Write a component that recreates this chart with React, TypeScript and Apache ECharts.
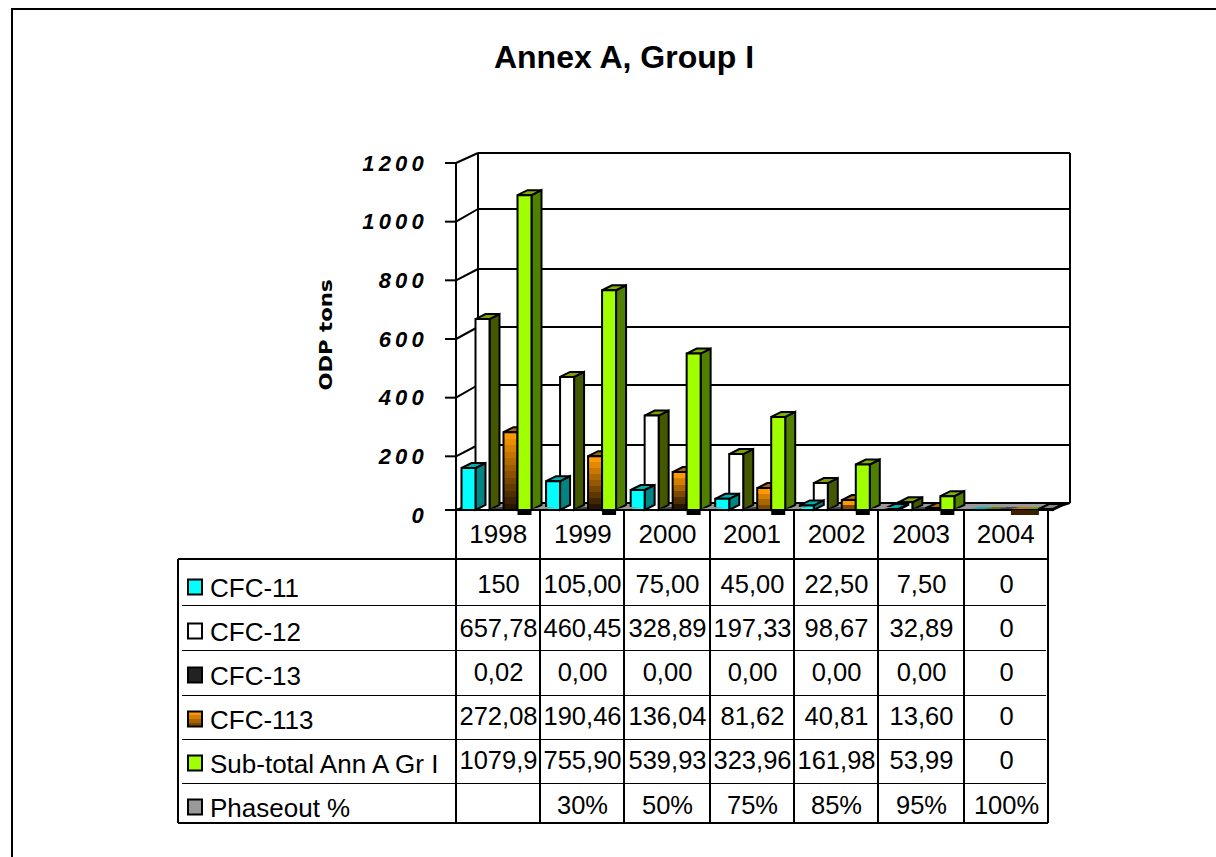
import React, { useEffect, useRef } from "react";
import * as echarts from "echarts";

const years = ["1998", "1999", "2000", "2001", "2002", "2003", "2004"];
const yTicks = [0, 200, 400, 600, 800, 1000, 1200];
const backWallY = [503, 445, 385, 327, 269, 209, 153];

const cfc11 = [150, 105, 75, 45, 22.5, 7.5, 0];
const cfc12 = [657.78, 460.45, 328.89, 197.33, 98.67, 32.89, 0];
const cfc13 = [0.02, 0, 0, 0, 0, 0, 0];
const cfc113 = [272.08, 190.46, 136.04, 81.62, 40.81, 13.6, 0];
const subTotal = [1079.9, 755.9, 539.93, 323.96, 161.98, 53.99, 0];
const phaseout = [0, 0.3, 0.5, 0.75, 0.85, 0.95, 1];

const cellsCfc11 = ["150", "105,00", "75,00", "45,00", "22,50", "7,50", "0"];
const cellsCfc12 = ["657,78", "460,45", "328,89", "197,33", "98,67", "32,89", "0"];
const cellsCfc13 = ["0,02", "0,00", "0,00", "0,00", "0,00", "0,00", "0"];
const cellsCfc113 = ["272,08", "190,46", "136,04", "81,62", "40,81", "13,60", "0"];
const cellsSubTotal = ["1079,9", "755,90", "539,93", "323,96", "161,98", "53,99", "0"];
const cellsPhaseout = ["", "30%", "50%", "75%", "85%", "95%", "100%"];

const rowNames = ["CFC-11", "CFC-12", "CFC-13", "CFC-113", "Sub-total Ann A Gr I", "Phaseout %"];
const rowCells = [cellsCfc11, cellsCfc12, cellsCfc13, cellsCfc113, cellsSubTotal, cellsPhaseout];

const FONT = '"Liberation Sans", Arial, sans-serif';
const GRID = { left: 456, top: 163, width: 592, height: 352 };
const FLOOR_Y = 510;
const BACK_FLOOR_Y = 503;
const BACK_TOP_Y = 153;
const BACK_LEFT = 478;
const BACK_RIGHT = 1070;
const SLOT = 14;
const BAR_W = 14;
const BAR_OFFSET = 5.5;
const DX = 10;
const DY = 5;

function steppedOrange(steps: number) {
  const top = [255, 153, 0];
  const bottom = [40, 22, 0];
  const stops: { offset: number; color: string }[] = [];
  for (let i = 0; i < steps; i++) {
    const t = steps > 1 ? i / (steps - 1) : 0;
    const c = top.map((a, k) => Math.round(a + (bottom[k] - a) * t * (steps < 5 ? 0.6 : 1)));
    const col = `rgb(${c[0]},${c[1]},${c[2]})`;
    stops.push({ offset: i / steps, color: col }, { offset: (i + 1) / steps, color: col });
  }
  return new echarts.graphic.LinearGradient(0, 0, 0, 1, stops);
}

type BarStyle = { slot: number; front: string | null; side: string; top: string; flat: string };

function barSeries(name: string, values: number[], s: BarStyle) {
  return {
    type: "custom",
    name,
    data: values.map((v, i) => [i, v]),
    encode: { x: 0, y: 1 },
    renderItem: (_p: any, api: any) => {
      const cat = api.value(0);
      const v = api.value(1);
      const band = api.size([1, 0])[0];
      const x0 = api.coord([cat, 0])[0] - band / 2 + BAR_OFFSET + s.slot * SLOT;
      const x1 = x0 + BAR_W;
      const children: any[] = [];
      if (name === "Sub-total Ann A Gr I") {
        children.push({
          type: "rect",
          shape: { x: x0, y: FLOOR_Y, width: BAR_W, height: 5 },
          style: { fill: cat === 6 ? "#3a2000" : "#000" },
        });
      }
      if (name === "CFC-113" && cat === 6) {
        children.push({
          type: "rect",
          shape: { x: x0, y: FLOOR_Y, width: BAR_W + 1, height: 5 },
          style: { fill: "#3a2000" },
        });
      }
      if (v < 1) {
        children.push({
          type: "polygon",
          shape: {
            points: [
              [x0, FLOOR_Y - 1],
              [x1, FLOOR_Y - 1],
              [x1 + DX, FLOOR_Y - 3],
              [x0 + DX, FLOOR_Y - 3],
            ],
          },
          style: { fill: s.flat },
        });
        return { type: "group", children };
      }
      const y = Math.min(api.coord([cat, v])[1] - 3, FLOOR_Y - 1);
      const line = { stroke: "#000", lineWidth: 2, lineJoin: "miter" };
      children.push({
        type: "polygon",
        shape: { points: [[x1, y], [x1 + DX, y - DY], [x1 + DX, FLOOR_Y - DY], [x1, FLOOR_Y]] },
        style: { fill: s.side, ...line },
      });
      children.push({
        type: "polygon",
        shape: { points: [[x0, y], [x0 + DX, y - DY], [x1 + DX, y - DY], [x1, y]] },
        style: { fill: s.top, ...line },
      });
      const h = FLOOR_Y - y;
      children.push({
        type: "rect",
        shape: { x: x0, y, width: BAR_W, height: h },
        style: { fill: s.front ?? steppedOrange(Math.max(1, Math.ceil(h / 6.5))), ...line },
      });
      return { type: "group", children };
    },
  };
}

const frameSeries = {
  type: "custom",
  name: "frame",
  data: yTicks.map((v) => [0, v]),
  encode: { x: 0, y: 1 },
  silent: true,
  renderItem: (params: any, api: any) => {
    const v = api.value(1);
    const left = params.coordSys.x;
    const right = left + params.coordSys.width;
    const y = v === 0 ? FLOOR_Y : api.coord([0, v])[1];
    const backY = backWallY[yTicks.indexOf(v)];
    const line = { stroke: "#000", lineWidth: 2 };
    const children: any[] = [];
    if (v === 0) {
      children.push({
        type: "polygon",
        shape: { points: [[left, FLOOR_Y], [right, FLOOR_Y], [BACK_RIGHT, BACK_FLOOR_Y], [BACK_LEFT, BACK_FLOOR_Y]] },
        style: { fill: "#999", stroke: "#000", lineWidth: 2 },
      });
    }
    if (v === 1200) {
      children.push({ type: "line", shape: { x1: left, y1: y, x2: left, y2: FLOOR_Y }, style: line });
      children.push({ type: "line", shape: { x1: BACK_LEFT, y1: BACK_TOP_Y, x2: BACK_LEFT, y2: BACK_FLOOR_Y }, style: line });
      children.push({ type: "line", shape: { x1: BACK_RIGHT, y1: BACK_TOP_Y, x2: BACK_RIGHT, y2: BACK_FLOOR_Y }, style: line });
    }
    children.push({ type: "line", shape: { x1: left - 11, y1: y, x2: left, y2: y }, style: line });
    children.push({ type: "line", shape: { x1: left, y1: y, x2: BACK_LEFT, y2: backY }, style: line });
    children.push({ type: "line", shape: { x1: BACK_LEFT, y1: backY, x2: BACK_RIGHT, y2: backY }, style: line });
    return { type: "group", children };
  },
};

const rowLineY = [605.5, 650.5, 695.5, 739.5, 783.5];
const columnX = [456, 540, 624, 710, 794, 878, 964, 1048];
const keyFill = () => ["#00FFFF", "#FFFFFF", "#222222", steppedOrange(4), "#A0FF00", "#999999"];

function tableGraphics() {
  const els: any[] = [];
  const thick = { stroke: "#000", lineWidth: 2 };
  const thin = { stroke: "#000", lineWidth: 1 };
  const ln = (x1: number, y1: number, x2: number, y2: number, style: any) =>
    els.push({ type: "line", shape: { x1, y1, x2, y2 }, style });
  // outer frame of the picture
  els.push({
    type: "polyline",
    shape: { points: [[12, 857], [12, 9], [1216, 9]] },
    style: { stroke: "#000", lineWidth: 2, fill: "none" },
  });
  columnX.forEach((x) => ln(x, 510, x, 823, thick));
  ln(178, 559, 1048, 559, thick);
  ln(178, 559, 178, 823, thick);
  ln(178, 823, 1048, 823, thick);
  rowLineY.forEach((y) => ln(182, y, 1046, y, thin));
  const fills = keyFill();
  rowNames.forEach((name, r) => {
    const rowY = 588 + r * 44;
    els.push({
      type: "rect",
      shape: { x: 188, y: rowY - 8.5, width: 14, height: 15 },
      style: { fill: fills[r], stroke: "#000", lineWidth: 2 },
    });
    els.push({
      type: "text",
      x: 210,
      y: rowY,
      style: { text: name, fill: "#000", fontSize: 26, fontFamily: FONT, textAlign: "left", textVerticalAlign: "middle" },
    });
    rowCells[r].forEach((cell, c) => {
      if (!cell) return;
      els.push({
        type: "text",
        x: (columnX[c] + columnX[c + 1]) / 2 + 0.5,
        y: rowY - 4 + (r === 5 ? 1 : 0),
        style: { text: cell, fill: "#000", fontSize: 25.5, fontFamily: FONT, textAlign: "center", textVerticalAlign: "middle" },
      });
    });
  });
  // y axis title, stretched along its length like the reference
  els.push({
    type: "text",
    x: 326,
    y: 335,
    rotation: Math.PI / 2,
    scaleX: 1.25,
    style: {
      text: "ODP tons",
      fill: "#000",
      fontSize: 17,
      fontWeight: "bold",
      fontFamily: '"DejaVu Sans", sans-serif',
      textAlign: "center",
      textVerticalAlign: "middle",
    },
  });
  return els;
}

export default function App() {
  const ref = useRef<HTMLDivElement>(null);
  useEffect(() => {
    if (!ref.current) return;
    const chart = echarts.init(ref.current, undefined, { renderer: "svg" });
    chart.setOption({
      animation: false,
      backgroundColor: "#fff",
      title: {
        text: "Annex A, Group I",
        left: 619,
        top: 36,
        textAlign: "center",
        textStyle: { fontFamily: FONT, fontSize: 32, fontWeight: "bold", color: "#000" },
      },
      grid: { ...GRID, containLabel: false },
      xAxis: {
        type: "category",
        data: years,
        axisLine: { show: false },
        axisTick: { show: false },
        axisLabel: { fontFamily: FONT, fontSize: 26, color: "#000", margin: 6 },
        splitLine: { show: false },
      },
      yAxis: {
        type: "value",
        min: 0,
        max: 1200,
        interval: 200,
        axisLine: { show: false },
        axisTick: { show: false },
        splitLine: { show: false },
        axisLabel: {
          fontFamily: FONT,
          fontSize: 22,
          fontWeight: "bold",
          fontStyle: "italic",
          color: "#000",
          margin: 28,
          formatter: (v: number) => String(v),
        },
      },
      graphic: tableGraphics(),
      series: [
        frameSeries,
        barSeries("CFC-12", cfc12, { slot: 1, front: "#FFFFFF", side: "#445800", top: "#80A000", flat: "#5f7a00" }),
        barSeries("CFC-11", cfc11, { slot: 0, front: "#00FFFF", side: "#008484", top: "#00B0B0", flat: "#00B8B8" }),
        barSeries("CFC-13", cfc13, { slot: 2, front: "#222222", side: "#111111", top: "#333333", flat: "#444444" }),
        barSeries("CFC-113", cfc113, { slot: 3, front: null, side: "#663d00", top: "#A86400", flat: "#C07800" }),
        barSeries("Sub-total Ann A Gr I", subTotal, { slot: 4, front: "#A0FF00", side: "#508000", top: "#80B000", flat: "#70A000" }),
        barSeries("Phaseout %", phaseout, { slot: 5, front: "#999999", side: "#666666", top: "#888888", flat: "#999999" }),
      ],
    });
    ref.current.querySelectorAll("text").forEach((t) => {
      if (/^\d+$/.test(t.textContent || "") && /italic/.test(t.getAttribute("style") || "")) {
        (t as any).style.letterSpacing = "4.2px";
      }
    });
    return () => chart.dispose();
  }, []);
  return <div ref={ref} style={{ position: "fixed", left: 0, top: 0, width: 1216, height: 857 }} />;
}
